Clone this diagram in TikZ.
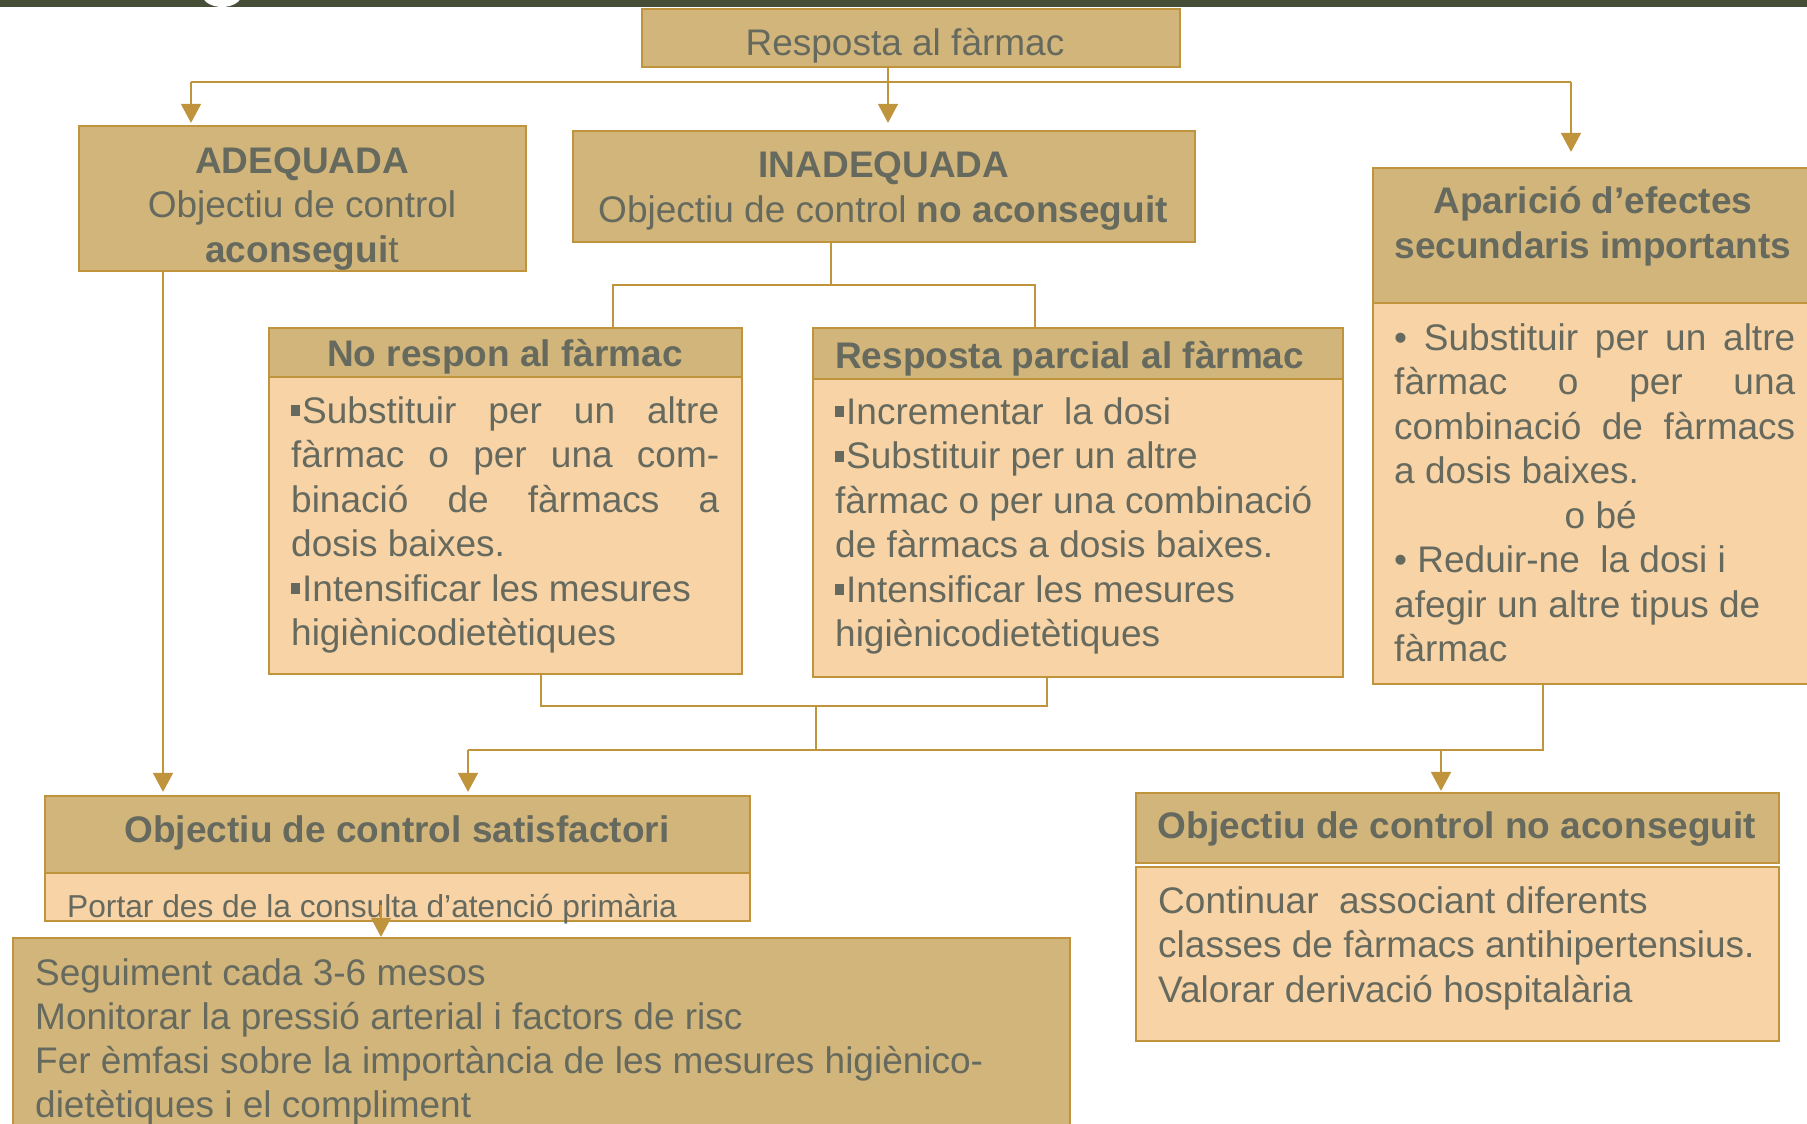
\documentclass[tikz,border=0pt]{standalone}
\usepackage{fontspec}
\setmainfont{Liberation Sans}
\usetikzlibrary{arrows.meta}
\definecolor{tanc}{RGB}{210,181,122}
\definecolor{peach}{RGB}{247,211,166}
\definecolor{goldc}{RGB}{192,148,60}
\definecolor{txtc}{RGB}{102,106,94}
\definecolor{bandc}{RGB}{71,78,56}
\newcommand{\sqb}{\rule[7pt]{9pt}{11pt}\hspace{2pt}}
\newcommand{\fs}{\fontsize{37}{44.5}\selectfont}
\begin{document}
\begin{tikzpicture}[x=1pt,y=-1pt,
  hdr/.style={draw=goldc, fill=tanc, line width=2.2pt, inner sep=0pt, rectangle},
  bod/.style={draw=goldc, fill=peach, line width=2.2pt, inner sep=0pt, rectangle},
  lbl/.style={inner sep=0pt, text=txtc, font=\fs, anchor=base},
  blk/.style={inner sep=0pt, text=txtc, font=\fs, anchor=base west},
  conn/.style={draw=goldc, line width=1.6pt},
  arr/.style={conn, -{Triangle[width=20pt,length=19pt]}},
]
\useasboundingbox (0,0) rectangle (1807,1124);
\clip (0,0) rectangle (1807,1124);
% top band with the foot of a white title letter
\fill[bandc] (0,0) rectangle (1807,7);
\begin{scope}
\clip (0,0) rectangle (1807,7);
\fill[white] (222,-6) ellipse [x radius=20pt, y radius=13pt];
\end{scope}

% boxes
\node[hdr, minimum width=538pt, minimum height=58pt] (b1) at (911,38) {};
\node[hdr, minimum width=447pt, minimum height=145pt] (b2) at (302.5,198.5) {};
\node[hdr, minimum width=622pt, minimum height=111pt] (b3) at (884,186.5) {};
\node[hdr, minimum width=440pt, minimum height=135pt] (b4h) at (1593,235.5) {};
\node[bod, minimum width=440pt, minimum height=381pt] (b4b) at (1593,493.5) {};
\node[hdr, minimum width=473pt, minimum height=49pt] (b5h) at (505.5,352.5) {};
\node[bod, minimum width=473pt, minimum height=297pt] (b5b) at (505.5,525.5) {};
\node[hdr, minimum width=530pt, minimum height=51pt] (b6h) at (1078,353.5) {};
\node[bod, minimum width=530pt, minimum height=298pt] (b6b) at (1078,528) {};
\node[bod, minimum width=705pt, minimum height=48pt] (b7b) at (397.5,897) {};
\node[hdr, minimum width=705pt, minimum height=77pt] (b7h) at (397.5,834.5) {};
\node[hdr, minimum width=1057pt, minimum height=202pt] (b8) at (541.5,1039) {};
\node[hdr, minimum width=643pt, minimum height=70pt] (b9h) at (1457.5,828) {};
\node[bod, minimum width=643pt, minimum height=174pt] (b9b) at (1457.5,954) {};

% texts
\node[lbl] (t1) at (905,56) {Resposta al fàrmac};
\node[lbl] (t2a) at (302,173) {\bfseries ADEQUADA};
\node[lbl] (t2b) at (302,217) {Objectiu de control};
\node[lbl] (t2c) at (302,262) {\textbf{aconsegui}t};
\node[lbl] (t3a) at (884,177) {\bfseries INADEQUADA};
\node[lbl] (t3b) at (883,222) {Objectiu de control \textbf{no aconseguit}};
\node[lbl] (t4a) at (1593,213) {\bfseries Aparició d’efectes};
\node[lbl] (t4b) at (1593,258) {\bfseries secundaris importants};
\node[blk] (t4c) at (1394,350) {\parbox[t]{401pt}{\fs
\makebox[401pt][s]{• Substituir per un altre}\\
\makebox[401pt][s]{fàrmac o per una}\\
\makebox[401pt][s]{combinació de fàrmacs}\\
a dosis baixes.\\
\makebox[413pt][c]{o bé}\\
• Reduir-ne\ \ la dosi i\\
afegir un altre tipus de\\
fàrmac}};
\node[lbl] (t5a) at (505,366) {\bfseries No respon al fàrmac};
\node[blk] (t5b) at (291,423) {\parbox[t]{428pt}{\fs
\makebox[428pt][s]{\sqb Substituir per un altre}\\
\makebox[428pt][s]{fàrmac o per una com-}\\
\makebox[428pt][s]{binació de fàrmacs a}\\
dosis baixes.\\
\sqb Intensificar les mesures\\
higiènicodietètiques}};
\node[blk] (t6a) at (835,368) {\bfseries Resposta parcial al fàrmac};
\node[blk] (t6b) at (835,424) {\parbox[t]{490pt}{\fs
\sqb Incrementar\ \ la dosi\\
\sqb Substituir per un altre\\
fàrmac o per una combinació\\
de fàrmacs a dosis baixes.\\
\sqb Intensificar les mesures\\
higiènicodietètiques}};
\node[lbl] (t7a) at (397,842) {\bfseries Objectiu de control satisfactori};
\node[blk, font=\fontsize{31.7}{38}\selectfont] (t7b) at (67,917) {Portar des de la consulta d’atenció primària};
\node[blk] (t8) at (35,985) {\parbox[t]{1030pt}{\fontsize{37}{44}\selectfont
Seguiment cada 3-6 mesos\\
Monitorar la pressió arterial i factors de risc\\
Fer èmfasi sobre la importància de les mesures higiènico-\\
dietètiques i el compliment}};
\node[lbl] (t9a) at (1457,838) {\bfseries Objectiu de control no aconseguit};
\node[blk] (t9b) at (1158,913) {\parbox[t]{610pt}{\fs
Continuar\ \ associant diferents\\
classes de fàrmacs antihipertensius.\\
Valorar derivació hospitalària}};

% junction coordinates
\coordinate (j1) at (888,82);
\coordinate (jL) at (191,82);
\coordinate (jR) at (1571,82);
\coordinate (j2) at (831,285);
\coordinate (j2L) at (613,285);
\coordinate (j2R) at (1035,285);
\coordinate (xA) at (163,500);
\coordinate (k1) at (541,706);
\coordinate (k2) at (1047,706);
\coordinate (k3) at (816,706);
\coordinate (k4) at (816,750);
\coordinate (kL) at (468,750);
\coordinate (kR) at (1543,750);
\coordinate (kM) at (1441,750);
\coordinate (s1) at (381,905);

% connectors
\draw[conn] (b1.south -| j1) -- (j1);
\draw[conn] (jL) -- (jR);
\draw[arr, shorten >=2pt] (jL) -- (jL |- b2.north);
\draw[arr, shorten >=7pt] (j1) -- (j1 |- b3.north);
\draw[arr, shorten >=15pt] (jR) -- (jR |- b4h.north);
\draw[conn] (b3.south -| j2) -- (j2);
\draw[conn] (j2L |- b5h.north) -- (j2L) -- (j2R) -- (j2R |- b6h.north);
\draw[arr, shorten >=3pt] (b2.south -| xA) -- (xA |- b7h.north);
\draw[conn] (b5b.south -| k1) -- (k1) -- (k2) -- (b6b.south -| k2);
\draw[conn] (k3) -- (k4);
\draw[conn] (kL) -- (kR) -- (b4b.south -| kR);
\draw[arr, shorten >=3pt] (kL) -- (kL |- b7h.north);
\draw[arr, shorten >=1pt] (kM) -- (kM |- b9h.north);
\draw[arr] (s1) -- (s1 |- b8.north);
\end{tikzpicture}
\end{document}
